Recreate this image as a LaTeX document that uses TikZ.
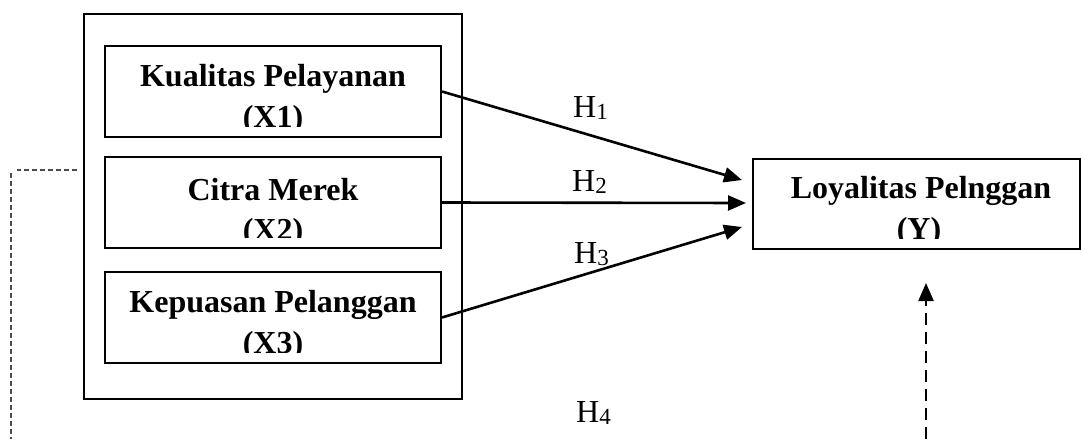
\documentclass[tikz,border=0pt]{standalone}
\usepackage{fontspec}
\setmainfont{Liberation Serif}
\usetikzlibrary{arrows.meta,calc}

\tikzset{
  varbox/.style={draw=black, line width=2pt, rectangle, inner sep=0pt},
  groupbox/.style={draw=black, line width=2.4pt, rectangle, inner sep=0pt},
  boxtext/.style={anchor=base, inner sep=0pt, font=\fontsize{32}{39}\selectfont\bfseries},
  hlabel/.style={anchor=base west, inner sep=0pt, font=\fontsize{32}{39}\selectfont},
  hpath/.style={line width=2.6pt, -{Triangle[length=18pt,width=15pt]}},
  dasharrow/.style={line width=2.4pt, dash pattern=on 12pt off 7pt, -{Triangle[length=18pt,width=15pt]}},
  guide/.style={black!70, line width=1.3pt, dash pattern=on 5pt off 3pt},
}
\newcommand{\hyp}[1]{H\raisebox{-2pt}{\fontsize{23}{23}\selectfont #1}}

\begin{document}
\begin{tikzpicture}[x=1pt,y=-1pt]
\useasboundingbox (0,0) rectangle (1081,439);

% independent variables inside a common frame
\node[groupbox, minimum width=378pt, minimum height=385pt] (grp) at (273,206.5) {};
\node[varbox, minimum width=336pt, minimum height=91pt] (x1) at (273,91.5) {};
\node[varbox, minimum width=336pt, minimum height=91pt] (x2) at (273,202.5) {};
\node[varbox, minimum width=336pt, minimum height=91pt] (x3) at (273,317.5) {};

% dependent variable
\node[varbox, minimum width=327pt, minimum height=90pt] (y) at (916.5,204) {};

% box captions, second line cut at the inner margin
\begin{scope}
  \clip (x1.north west) rectangle ([yshift=12pt]x1.south east);
  \node[boxtext] (x1a) at (273,86.5) {Kualitas Pelayanan};
  \node[boxtext] (x1b) at (273,127) {(X1)};
\end{scope}
\begin{scope}
  \clip (x2.north west) rectangle ([yshift=12pt]x2.south east);
  \node[boxtext] (x2a) at (273,200) {Citra Merek};
  \node[boxtext] (x2b) at (273,240) {(X2)};
\end{scope}
\begin{scope}
  \clip (x3.north west) rectangle ([yshift=12pt]x3.south east);
  \node[boxtext] (x3a) at (273,312) {Kepuasan Pelanggan};
  \node[boxtext] (x3b) at (273,353) {(X3)};
\end{scope}
\begin{scope}
  \clip (y.north west) rectangle ([yshift=12pt]y.south east);
  \node[boxtext] (ya) at (921,198) {Loyalitas Pelnggan};
  \node[boxtext] (yb) at (919,239) {(Y)};
\end{scope}

% arrow end points on the left side of Y
\coordinate (y1) at ($(y.west)+(-10,-24)$);
\coordinate (y2) at ($(y.west)+(-6,-1)$);
\coordinate (y3) at ($(y.west)+(-10,23)$);

\draw[hpath] (x1.east) -- (y1);
\draw[hpath] (x2.east) -- (y2);
\draw[hpath] (x3.east) -- (y3);

% hypothesis labels
\node[hlabel] (h1) at (573,117) {\hyp{1}};
\node[hlabel] (h2) at (572,191) {\hyp{2}};
\node[hlabel] (h3) at (574,263) {\hyp{3}};
\node[hlabel] (h4) at (576,422) {\hyp{4}};

% simultaneous path
\coordinate (h4base) at (926,439);
\coordinate (h4tip) at (926,283);
\draw[dasharrow] (h4base) -- (h4tip);

% left guide line
\coordinate (ga) at (77,170);
\coordinate (gb) at (17,170);
\coordinate (gc) at (11,173);
\coordinate (gd) at (11,439);
\draw[guide] (ga) -- (gb);
\draw[guide] (gc) -- (gd);
\end{tikzpicture}
\end{document}
